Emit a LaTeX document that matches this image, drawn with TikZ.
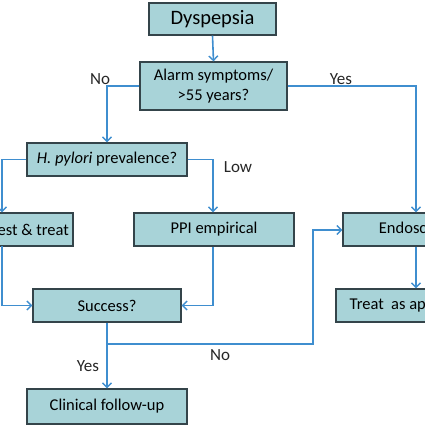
\documentclass[tikz,border=0pt]{standalone}
\usepackage{fontspec}
\setmainfont{Carlito}
\usetikzlibrary{arrows.meta}
\definecolor{boxfill}{HTML}{A8D3D8}
\definecolor{boxdraw}{HTML}{34444A}
\definecolor{linecol}{HTML}{3F8ECF}
\begin{document}
\begin{tikzpicture}[x=1pt,y=-1pt,
  box/.style={draw=boxdraw, fill=boxfill, line width=1.2pt, inner sep=0pt, align=center, font=\fontsize{16.5}{20}\selectfont},
  conn/.style={draw=linecol, line width=1.6pt, -{Straight Barb[length=4.5pt,width=9pt,line width=1.4pt]}},
  plain/.style={draw=linecol, line width=1.6pt},
  lbl/.style={font=\fontsize{17}{20}\selectfont, inner sep=0pt, text=black!85}]
\useasboundingbox (0,0) rectangle (425,425);
\begin{scope}
\clip (0,0) rectangle (425,425);
\node[box, minimum width=127pt, minimum height=32pt, font=\fontsize{20.5}{24}\selectfont] (dys) at (212.5,19) {Dyspepsia};
\node[box, minimum width=147pt, minimum height=48pt] (alarm) at (213.5,86) {Alarm symptoms/\\>55 years?};
\node[box, minimum width=160pt, minimum height=33pt] (hp) at (107,159.5) {\textit{H. pylori} prevalence?};
\node[box, minimum width=86pt, minimum height=33pt] (tt) at (30,229.5) {Test \& treat};
\node[box, minimum width=160pt, minimum height=33pt] (ppi) at (214,229.5) {PPI empirical};
\node[box, minimum width=144pt, minimum height=33pt] (endo) at (415,229.5) {Endoscopy};
\node[box, minimum width=148pt, minimum height=33pt] (succ) at (107,305.5) {Success?};
\node[box, minimum width=166pt, minimum height=33pt] (treat) at (419,305.5) {Treat\ \ as appropriate};
\node[box, minimum width=160pt, minimum height=35pt] (clin) at (107,406.5) {Clinical follow-up};

\coordinate (noc) at (107,86);
\coordinate (yesc) at (416,86);
\coordinate (hpl) at (2,159.5);
\coordinate (hpr) at (213,159.5);
\coordinate (ttb) at (2,246);
\coordinate (ttc) at (2,305.5);
\coordinate (ppic) at (213,305.5);
\coordinate (br) at (107,344);
\coordinate (brr) at (313,344);
\coordinate (bru) at (313,230);

\draw[conn] (dys.south) -- (alarm.north);
\draw[conn] (alarm.west) -- (noc) -- (hp.north);
\draw[conn] (alarm.east) -- (yesc) -- (yesc |- endo.north);
\draw[conn] (hp.west) -- (hpl) -- (hpl |- tt.north);
\draw[conn] (hp.east) -- (hpr) -- (hpr |- ppi.north);
\draw[conn] (ttb) -- (ttc) -- (succ.west);
\draw[conn] (ppi.south -| ppic) -- (ppic) -- (succ.east);
\draw[conn] (endo.south -| yesc) -- (treat.north -| yesc);
\draw[conn] (succ.south) -- (clin.north);
\draw[conn] (br) -- (brr) -- (bru) -- (bru -| endo.west);

\node[lbl] (lno) at (100,79) {No};
\node[lbl] (lyes) at (341,79) {Yes};
\node[lbl] (llow) at (238,167) {Low};
\node[lbl] (lyes2) at (88,366) {Yes};
\node[lbl] (lno2) at (220,355) {No};
\end{scope}
\end{tikzpicture}
\end{document}
